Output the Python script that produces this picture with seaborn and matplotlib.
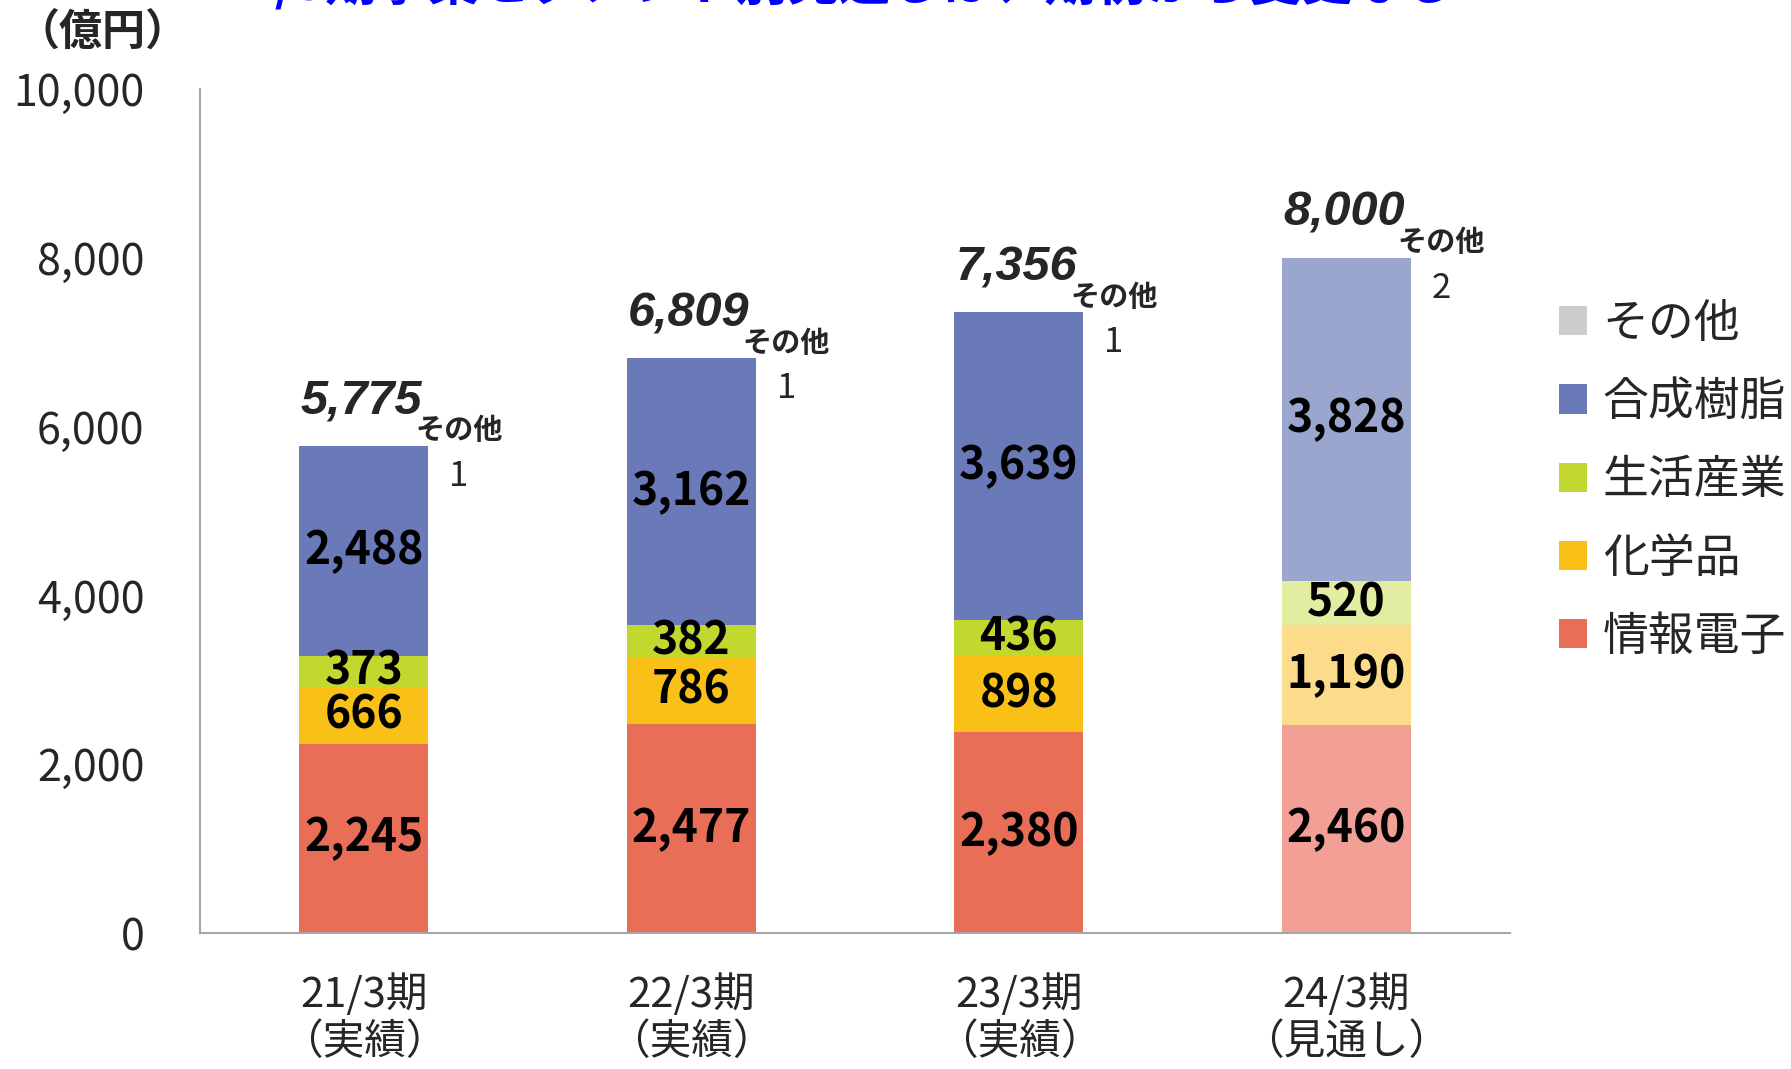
import matplotlib
matplotlib.use('Agg')
import matplotlib.pyplot as plt
from matplotlib.patches import Patch
from matplotlib.ticker import FuncFormatter
import numpy as np
import seaborn as sns

# データ (億円)
periods = ['21/3期\n（実績）', '22/3期\n（実績）', '23/3期\n（実績）', '24/3期\n（見通し）']
segments = ['情報電子', '化学品', '生活産業', '合成樹脂', 'その他']
joho_denshi = [2245, 2477, 2380, 2460]
kagakuhin = [666, 786, 898, 1190]
seikatsu_sangyo = [373, 382, 436, 520]
gosei_jushi = [2488, 3162, 3639, 3828]
sonota = [1, 1, 1, 2]
totals = [5775, 6809, 7356, 8000]

# 実績の色 / 見通しの色 (淡色)
colors = ['#E96E58', '#F9C017', '#C2D82E', '#6A7AB8', '#CCCCCC']
light_colors = ['#F2A095', '#FCDC8A', '#E3EDA2', '#9BA6CF', '#E0E0E0']

sns.set_style('white')
plt.rcParams['font.family'] = ['Noto Sans CJK JP', 'DejaVu Sans']

fig = plt.figure(figsize=(17.91, 10.69), dpi=100)
ax = fig.add_axes([0.1117, 0.127, 0.7315, 0.79])

layers = [joho_denshi, kagakuhin, seikatsu_sangyo, gosei_jushi, sonota]
cum = np.cumsum(np.array(layers), axis=0)

# 積み上げ: 上の層から累積値を重ねて描く
for k in range(len(layers) - 1, -1, -1):
    pal = [colors[k]] * 3 + [light_colors[k]]
    sns.barplot(x=periods, y=cum[k], hue=periods, palette=pal, legend=False,
                width=0.394, saturation=1, ax=ax, linewidth=0)

# 各セグメントの数値
for k in range(4):
    for i in range(len(periods)):
        ymid = cum[k][i] - layers[k][i] / 2
        ax.text(i, ymid, f'{layers[k][i]:,}', ha='center', va='center',
                fontsize=32, fontweight='bold', color='black')

# 合計とその他
for i in range(len(periods)):
    ax.annotate(f'{totals[i]:,}', (i, totals[i]), xytext=(-2, 32),
                textcoords='offset points', ha='center', va='center',
                fontsize=35, fontweight='bold', fontstyle='italic',
                family='Liberation Sans')
    ax.annotate('その他', (i + 0.29, totals[i]), xytext=(0, 11),
                textcoords='offset points', ha='center', va='center',
                fontsize=21, fontweight='bold')
    ax.annotate(f'{sonota[i]}', (i + 0.29, totals[i]), xytext=(0, -22),
                textcoords='offset points', ha='center', va='center',
                fontsize=25)

ax.set_ylim(0, 10000)
ax.set_xlim(-0.5, 3.5)
ax.set_yticks(range(0, 10001, 2000))
ax.yaxis.set_major_formatter(FuncFormatter(lambda v, p: f'{int(v):,}'))
ax.tick_params(axis='y', length=0, pad=40, labelsize=31)
ax.tick_params(axis='x', length=0, pad=29, labelsize=30)
for lbl in ax.get_xticklabels():
    lbl.set_linespacing(1.18)
ax.set_xlabel('')
ax.set_ylabel('')
for s in ['top', 'right']:
    ax.spines[s].set_visible(False)
for s in ['left', 'bottom']:
    ax.spines[s].set_color('#A6A6A6')
    ax.spines[s].set_linewidth(1.5)

# 単位
fig.text(102 / 1791, 1 - 32 / 1069, '（億円）', ha='center', va='center',
         fontsize=31, fontweight='bold')

# 見出し (上端で切れている)
fig.text(0.466, 1 - 11 / 1069, '24/3期事業セグメント別見通しは、期初から変更なし',
         ha='center', va='bottom', color='#0000FF', fontsize=37, fontweight='bold')

# 凡例
handles = [Patch(facecolor=colors[k], edgecolor='none') for k in range(4, -1, -1)]
labels = [segments[k] for k in range(4, -1, -1)]
fig.legend(handles, labels, loc='upper left', bbox_to_anchor=(0.8705, 0.72),
           frameon=False, fontsize=33, handlelength=0.6, handleheight=0.6,
           handletextpad=0.35, labelspacing=0.65, borderpad=0, borderaxespad=0)

fig.savefig('out.png', dpi=100)
